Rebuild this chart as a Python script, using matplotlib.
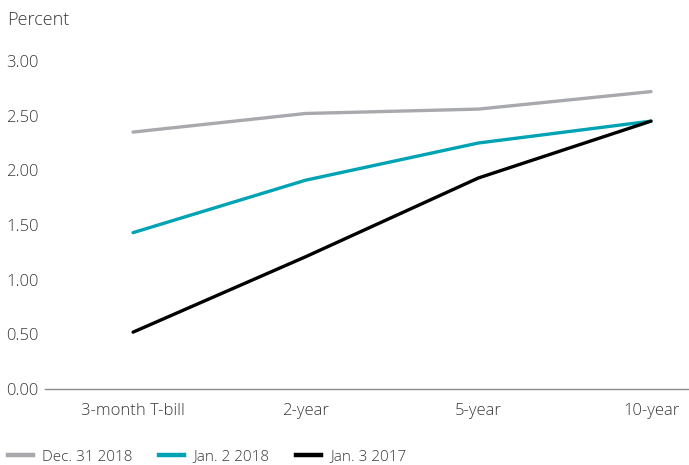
import matplotlib
matplotlib.use("Agg")
import matplotlib.pyplot as plt
from matplotlib.lines import Line2D

categories = ["3-month T-bill", "2-year", "5-year", "10-year"]
dec_31_2018 = [2.35, 2.52, 2.56, 2.72]
jan_2_2018 = [1.43, 1.91, 2.25, 2.45]
jan_3_2017 = [0.52, 1.21, 1.93, 2.45]
series_names = ["Dec. 31 2018", "Jan. 2 2018", "Jan. 3 2017"]
colors = ["#A7A9AC", "#00A3B4", "#000000"]
yticks = [0.0, 0.5, 1.0, 1.5, 2.0, 2.5, 3.0]

plt.rcParams['font.family'] = ['Open Sans', 'DejaVu Sans']
plt.rcParams['font.weight'] = 'light'
text_color = "#3A3A3A"
tick_fs, title_fs, leg_fs = 12, 13, 11

W, H = 689, 465
fig = plt.figure(figsize=(W / 100, H / 100), dpi=100)
ax = fig.add_axes([45 / W, 1 - 389 / H, (689 - 45) / W, (389 - 61) / H])

x = list(range(len(categories)))
for vals, c, name in zip([dec_31_2018, jan_2_2018, jan_3_2017], colors, series_names):
    ax.plot(x, vals, color=c, lw=2.4, solid_capstyle='round', label=name)

ax.set_xlim(-0.51, 3.22)
ax.set_ylim(0, 3.0)
ax.set_yticks(yticks)
ax.set_yticklabels([f"{v:.2f}" for v in yticks])
ax.set_xticks(x)
ax.set_xticklabels(categories)
for s in ["top", "right", "left"]:
    ax.spines[s].set_visible(False)
ax.spines["bottom"].set_color("#8C8C8C")
ax.spines["bottom"].set_linewidth(1.0)
ax.tick_params(axis='both', length=0, labelsize=tick_fs, colors=text_color)
ax.tick_params(axis='x', pad=10)
ax.tick_params(axis='y', pad=0)
for lab in ax.get_yticklabels():
    lab.set_horizontalalignment('left')
    lab.set_x(-45 / (689 - 45) + 6 / (689 - 45))

fig.text(7 / W, 1 - 20 / H, "Percent", fontsize=title_fs, color=text_color, va='center', ha='left')

handles = [Line2D([0], [0], color=c, lw=3.2) for c in colors]
fig.legend(handles, series_names, loc='center left', bbox_to_anchor=(8 / W, 1 - 457 / H),
           ncol=3, frameon=False, fontsize=leg_fs, handlelength=1.63, handletextpad=0.6,
           columnspacing=1.75, borderpad=0, borderaxespad=0, labelcolor=text_color)

fig.savefig("out.png", dpi=100)
